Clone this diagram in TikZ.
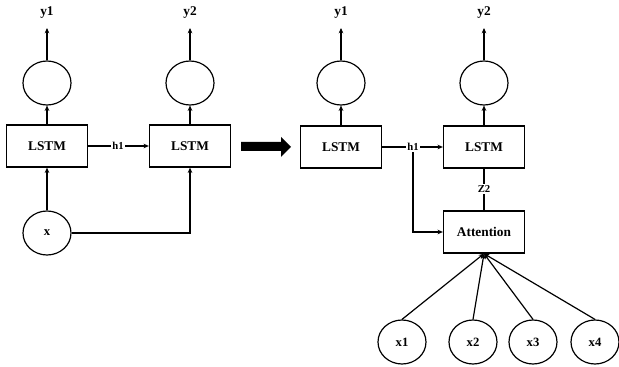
\documentclass[tikz,border=0pt]{standalone}
\usepackage{fontspec}
\setmainfont{Liberation Serif}
\usetikzlibrary{shapes.geometric,arrows.meta}
\begin{document}
\begin{tikzpicture}[x=0.75pt,y=-0.75pt,
  lstmbox/.style={draw,line width=1pt,minimum width=60.75pt,minimum height=31.5pt,inner sep=0pt,font=\bfseries\fontsize{10}{12}\selectfont},
  unit/.style={draw,ellipse,line width=0.9pt,minimum width=36pt,minimum height=33pt,inner sep=0pt,font=\bfseries\fontsize{9.5}{11}\selectfont},
  lbl/.style={inner sep=1pt,font=\bfseries\fontsize{10}{12}\selectfont},
  smalllbl/.style={inner sep=1pt,fill=white,font=\bfseries\fontsize{8}{10}\selectfont},
  conn/.style={line width=0.9pt},
  arr/.style={line width=0.9pt,-{Stealth[length=4pt,width=3.5pt]}}]
\useasboundingbox (0,0) rectangle (619,367);
% ---------- left ----------
\node[lstmbox] (l1) at (47,146) {LSTM};
\node[lstmbox] (l2) at (190,146) {LSTM};
\node[unit] (c1) at (47,83) {};
\node[unit] (c2) at (190,83) {};
\node[unit] (x) at (47,233) {x};
\node[lbl] (y1) at (47,13) {y1};
\node[lbl] (y2) at (190,13) {y2};
\coordinate (t1) at (47,28);
\coordinate (t2) at (190,28);
\coordinate (xc) at (190,233);
\node[smalllbl] (h1a) at (118,146) {h1};
\draw[arr] (l1.north) -- (c1.south);
\draw[arr] (l2.north) -- (c2.south);
\draw[arr] (c1.north) -- (t1);
\draw[arr] (c2.north) -- (t2);
\draw[conn] (l1.east) -- (h1a.west);
\draw[arr] (h1a.east) -- (l2.west);
\draw[arr] (x.north) -- (l1.south);
\draw[arr] (x.east) -- (xc) -- (l2.south);
% ---------- big arrow ----------
\fill (241,142) -- (281,142) -- (281,137) -- (291,147) -- (281,157) -- (281,151) -- (241,151) -- cycle;
% ---------- right ----------
\node[lstmbox] (l3) at (341,147) {LSTM};
\node[lstmbox] (l4) at (484,147) {LSTM};
\node[unit] (c3) at (341,83) {};
\node[unit] (c4) at (484,83) {};
\node[lbl] (y3) at (341,13) {y1};
\node[lbl] (y4) at (484,13) {y2};
\coordinate (t3) at (341,28);
\coordinate (t4) at (484,28);
\node[smalllbl] (h1b) at (413,147) {h1};
\node[lstmbox] (att) at (484,232) {Attention};
\node[smalllbl] (z2) at (484,189) {Z2};
\coordinate (hd) at (413,232);
\node[unit] (x1) at (402,342) {x1};
\node[unit] (x2) at (473,342) {x2};
\node[unit] (x3) at (533,342) {x3};
\node[unit] (x4) at (595,342) {x4};
\draw[arr] (l3.north) -- (c3.south);
\draw[arr] (l4.north) -- (c4.south);
\draw[arr] (c3.north) -- (t3);
\draw[arr] (c4.north) -- (t4);
\draw[conn] (l3.east) -- (h1b.west);
\draw[arr] (h1b.east) -- (l4.west);
\draw[arr] (h1b.south) -- (hd) -- (att.west);
\draw[conn] (l4.south) -- (z2.north);
\draw[conn] (z2.south) -- (att.north);
\foreach \n in {x1,x2,x3,x4} \draw[arr] (\n.north) -- (att.south);
\end{tikzpicture}
\end{document}
